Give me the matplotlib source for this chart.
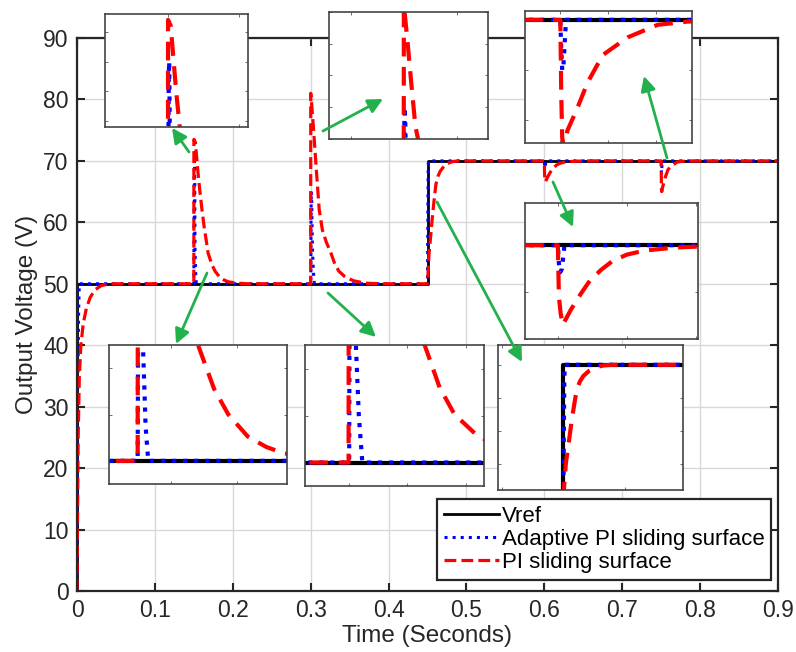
import matplotlib
matplotlib.use("Agg")
import matplotlib.pyplot as plt

plt.rcParams['font.family'] = ['Liberation Sans', 'DejaVu Sans']

# Reference voltage
t_ref = [0.0, 0.0, 0.45, 0.45, 0.9]
v_ref = [0.0, 50.0, 50.0, 70.0, 70.0]

# Adaptive PI sliding surface (blue dotted)
t_api = [0.0, 0.0005, 0.001, 0.002, 0.003,
         0.1500, 0.1503, 0.1506, 0.1509, 0.1512, 0.1516, 0.1524, 0.1532,
         0.3002, 0.3004, 0.3008, 0.3014, 0.3020, 0.3025, 0.3035, 0.3047,
         0.4500, 0.4504, 0.4508, 0.4512,
         0.6000, 0.6003, 0.6007, 0.6012, 0.6019,
         0.7500, 0.7502, 0.7504, 0.7506, 0.7509, 0.7512,
         0.9]
v_api = [0.0, 18.0, 32.0, 45.0, 50.0,
         50.0, 62.0, 69.0, 70.0, 66.0, 55.0, 51.5, 50.0,
         50.0, 60.0, 65.0, 63.0, 58.0, 55.0, 52.0, 50.0,
         50.0, 60.0, 68.0, 70.0,
         70.0, 69.2, 68.85, 69.0, 70.0,
         70.0, 68.8, 68.0, 68.0, 69.0, 70.0,
         70.0]

# PI sliding surface (red dashed)
t_pi = [0.0, 0.0015, 0.003, 0.005, 0.008, 0.012, 0.017, 0.023, 0.031, 0.042,
        0.1500, 0.1501, 0.1520, 0.1540, 0.1560, 0.1580, 0.1605, 0.1635, 0.1660,
        0.1683, 0.1732, 0.1775, 0.1834, 0.1890, 0.1942, 0.2050, 0.2200,
        0.3000, 0.3001, 0.3008, 0.3035, 0.3070, 0.3110, 0.3150, 0.3200, 0.3260,
        0.3311, 0.3362, 0.3435, 0.3463, 0.3550, 0.3700, 0.3900,
        0.4500, 0.4504, 0.4520, 0.4541, 0.4568, 0.4590, 0.4608, 0.4635, 0.4662,
        0.4710, 0.4760, 0.4826, 0.4900,
        0.6000, 0.6003, 0.6008, 0.6014, 0.6038, 0.6065, 0.6092, 0.6125, 0.6159,
        0.6200, 0.6250, 0.6338, 0.6450, 0.6600,
        0.7500, 0.7502, 0.7504, 0.7507, 0.7510, 0.7515, 0.7536, 0.7557, 0.7589,
        0.7641, 0.7704, 0.7767, 0.7900,
        0.9]
v_pi = [0.0, 25.0, 35.0, 40.0, 43.5, 46.0, 47.8, 49.0, 49.7, 50.0,
        50.0, 73.5, 73.0, 70.0, 67.2, 64.8, 62.0, 59.0, 57.0,
        55.0, 53.1, 52.0, 51.05, 50.6, 50.33, 50.1, 50.0,
        50.0, 81.0, 80.0, 75.5, 69.0, 62.0, 58.8, 56.8, 55.0,
        53.2, 52.05, 51.2, 51.0, 50.5, 50.1, 50.0,
        50.0, 51.0, 55.0, 57.8, 61.6, 64.2, 66.2, 67.5, 68.3,
        69.1, 69.6, 69.9, 70.0,
        70.0, 67.8, 67.1, 66.6, 67.26, 67.9, 68.48, 68.95, 69.34,
        69.6, 69.77, 69.9, 69.97, 70.0,
        70.0, 67.0, 65.3, 65.0, 65.1, 65.6, 66.5, 67.5, 68.6,
        69.3, 69.8, 69.93, 70.0,
        70.0]

W, H = 796, 652
fig = plt.figure(figsize=(W / 100, H / 100), dpi=100)


def px_box(x0, y0, x1, y1):
    return [x0 / W, 1 - y1 / H, (x1 - x0) / W, (y1 - y0) / H]


ax = fig.add_axes(px_box(77, 38, 778, 591))
ax.plot(t_ref, v_ref, color='k', lw=2, label='Vref')
ax.plot(t_api, v_api, color='#0000ff', ls=':', lw=2.2, label='Adaptive PI sliding surface')
ax.plot(t_pi, v_pi, color='#ff0000', ls='--', lw=2.3, label='PI sliding surface')
ax.set_xlim(0, 0.9)
ax.set_ylim(0, 90)
ax.set_xticks([0, 0.1, 0.2, 0.3, 0.4, 0.5, 0.6, 0.7, 0.8, 0.9])
ax.set_xticklabels(['0', '0.1', '0.2', '0.3', '0.4', '0.5', '0.6', '0.7', '0.8', '0.9'])
ax.set_yticks(range(0, 91, 10))
ax.grid(True, color='#d8d8d8', lw=1)
ax.tick_params(direction='in', length=6, width=1.5, top=True, right=True,
               labelsize=16.5, colors='#262626', pad=6)
for s in ax.spines.values():
    s.set_linewidth(1.6)
    s.set_color('#262626')
ax.set_xlabel('Time (Seconds)', fontsize=17.5, color='#262626', labelpad=2)
ax.set_ylabel('Output Voltage (V)', fontsize=17.5, color='#262626', labelpad=4)
leg = ax.legend(loc='lower right', bbox_to_anchor=(0.99, 0.02), borderaxespad=0,
                fontsize=16, handlelength=2.5, handletextpad=0.1, labelspacing=0.1,
                borderpad=0.3, fancybox=False, framealpha=1, edgecolor='#262626')
leg.get_frame().set_linewidth(1.6)

# zoomed insets: pixel box, x limits, y limits
insets = [((105, 14, 248, 127), (0.106, 0.206), (64.5, 74)),
          ((329, 12, 488, 139), (0.2295, 0.3795), (60, 80)),
          ((525, 11, 692, 143), (0.7426, 0.7776), (65.1, 70.35)),
          ((525, 203, 698, 339), (0.5905, 0.6405), (66, 71.8)),
          ((109, 345, 287, 484), (0.1413, 0.1953), (49, 55)),
          ((305, 345, 484, 486), (0.2851, 0.3463), (49, 55)),
          ((498, 345, 683, 490), (0.397, 0.547), (51, 73.0))]
for box, xl, yl in insets:
    ia = fig.add_axes(px_box(*box))
    ia.plot(t_ref, v_ref, color='k', lw=3)
    ia.plot(t_api, v_api, color='#0000ff', ls=':', lw=3)
    ia.plot(t_pi, v_pi, color='#ff0000', ls='--', lw=3, dashes=(4.5, 2.5))
    ia.set_xlim(*xl)
    ia.set_ylim(*yl)
    ia.tick_params(direction='in', length=2, width=0.6, top=True, right=True,
                   labelbottom=False, labelleft=False, colors='#555555')
    for s in ia.spines.values():
        s.set_linewidth(1.2)
        s.set_color('#444444')

# overlay for the green arrows, drawn above the insets (image pixel coords)
ov = fig.add_axes([0, 0, 1, 1])
ov.set_xlim(0, W)
ov.set_ylim(H, 0)
ov.axis('off')
green = '#22b14c'
arrows = [((189, 152), (172, 128)),
          ((323, 131), (383, 99)),
          ((667, 158), (644, 76)),
          ((553, 182), (573, 227)),
          ((207, 273), (176, 344)),
          ((328, 293), (376, 337)),
          ((437, 202), (522, 362))]
for (tx, ty), (hx, hy) in arrows:
    ov.annotate('', xy=(hx, hy), xytext=(tx, ty),
                arrowprops=dict(arrowstyle='-|>', color=green, lw=2,
                                mutation_scale=22, shrinkA=0, shrinkB=0))

fig.savefig('out.png', dpi=100)
